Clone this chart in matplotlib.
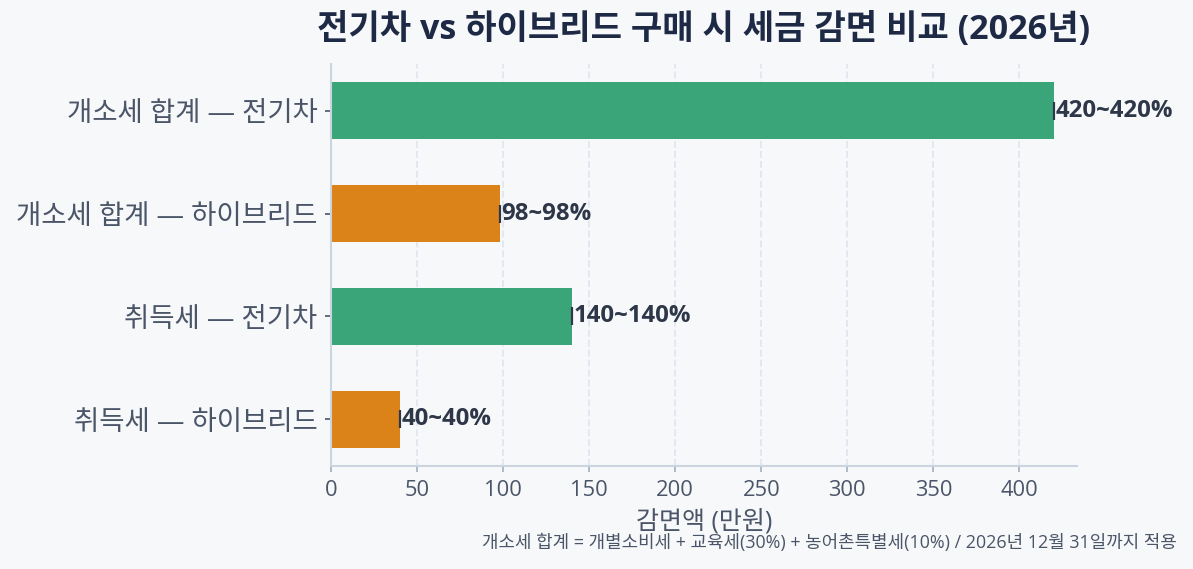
import matplotlib.pyplot as plt

# 데이터
labels = ["개소세 합계 — 전기차", "개소세 합계 — 하이브리드", "취득세 — 전기차", "취득세 — 하이브리드"]
values = [420, 98, 140, 40]
value_text = ["420~420%", "98~98%", "140~140%", "40~40%"]
colors = ["#3BA57A", "#DB8218", "#3BA57A", "#DB8218"]
xticks = [0, 50, 100, 150, 200, 250, 300, 350, 400]

plt.rcParams['font.family'] = ['Open Sans', 'Noto Sans CJK KR', 'DejaVu Sans']

BG = "#F7F8FA"
fig = plt.figure(figsize=(1193 / 150, 569 / 150), dpi=150, facecolor=BG)
ax = fig.add_axes([0.2775, 0.181, 0.6253, 0.7065], facecolor=BG)

y = list(range(len(labels)))
ax.barh(y, values, height=0.55, color=colors, zorder=2)
ax.errorbar(values, y, xerr=0, fmt='none', ecolor='#2D3748', elinewidth=1.0,
            capsize=4.5, capthick=1.0, zorder=3)

for yi, v, t in zip(y, values, value_text):
    ax.text(v + 1, yi, t, va='center', ha='left', fontsize=11.5,
            fontweight='bold', color='#2D3748', zorder=4)

ax.set_yticks(y)
ax.set_yticklabels(labels, fontsize=13.2, color='#4A5568')
ax.invert_yaxis()
ax.set_xticks(xticks)
ax.set_xlim(0, 433.5)
ax.tick_params(axis='x', labelsize=10.5, colors='#4A5568', length=3, color='#A0AEC0')
ax.tick_params(axis='y', length=3, color='#4A5568')

ax.grid(axis='x', linestyle='--', color='#E2E8F0', linewidth=0.9, zorder=0)
ax.set_axisbelow(True)
for s in ['top', 'right']:
    ax.spines[s].set_visible(False)
for s in ['left', 'bottom']:
    ax.spines[s].set_color('#CBD5E0')
    ax.spines[s].set_linewidth(1.0)

ax.set_title("전기차 vs 하이브리드 구매 시 세금 감면 비교 (2026년)", fontsize=16.4,
             fontweight='bold', color='#1E2A45', pad=12)
ax.set_xlabel("감면액 (만원)", fontsize=12, color='#4A5568', labelpad=4)

fig.text(0.9866, 0.046, "개소세 합계 = 개별소비세 + 교육세(30%) + 농어촌특별세(10%) / 2026년 12월 31일까지 적용",
         ha='right', va='center', fontsize=8.6, color='#4A5568')

fig.savefig("out.png", dpi=150, facecolor=BG)
